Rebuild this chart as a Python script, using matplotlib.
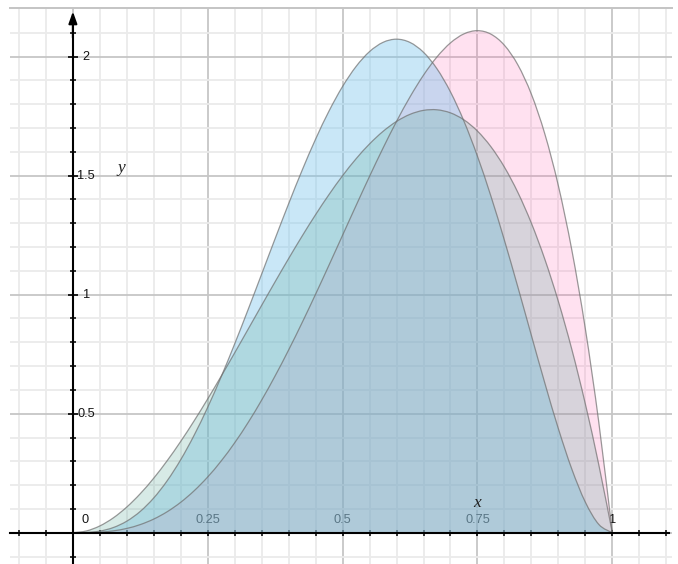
import matplotlib
matplotlib.use("Agg")
import matplotlib.pyplot as plt
from matplotlib.ticker import MultipleLocator, FixedLocator
from matplotlib.path import Path
from matplotlib.patches import PathPatch

# x positions of sampled points
x_vals = [0.0, 0.025, 0.05, 0.075, 0.1, 0.125, 0.15, 0.175, 0.2, 0.225, 0.25,
          0.275, 0.3, 0.325, 0.35, 0.375, 0.4, 0.425, 0.45, 0.475, 0.5,
          0.525, 0.55, 0.575, 0.6, 0.625, 0.65, 0.675, 0.7, 0.725, 0.75,
          0.775, 0.8, 0.825, 0.85, 0.875, 0.9, 0.925, 0.95, 0.975, 1.0]

# pink curve (peak ~2.11 at 0.75)
pink_vals = [0.0, 0.0003, 0.0024, 0.0078, 0.018, 0.0342, 0.0574, 0.0884, 0.128, 0.1766, 0.2344,
             0.3016, 0.378, 0.4634, 0.5574, 0.6592, 0.768, 0.8828, 1.0024, 1.1253, 1.25,
             1.3747, 1.4974, 1.6159, 1.728, 1.8311, 1.9224, 1.9991, 2.058, 2.0959, 2.1094,
             2.0947, 2.048, 1.9653, 1.8424, 1.6748, 1.458, 1.1872, 0.8574, 0.4634, 0.0]

# blue curve (peak ~2.07 at 0.6)
blue_vals = [0.0, 0.0009, 0.0068, 0.0217, 0.0486, 0.0897, 0.1463, 0.2189, 0.3072, 0.4105, 0.5273,
             0.6559, 0.7938, 0.9384, 1.0869, 1.236, 1.3824, 1.5228, 1.6539, 1.7724, 1.875,
             1.9589, 2.0215, 2.0603, 2.0736, 2.0599, 2.0185, 1.9491, 1.8522, 1.7291, 1.582,
             1.4139, 1.2288, 1.0318, 0.8291, 0.6281, 0.4374, 0.2671, 0.1286, 0.0348, 0.0]

# grey-green curve (peak ~1.78 at 0.667)
grey_vals = [0.0, 0.0073, 0.0285, 0.0624, 0.108, 0.1641, 0.2295, 0.3032, 0.384, 0.4708, 0.5625,
             0.6579, 0.756, 0.8556, 0.9555, 1.0547, 1.152, 1.2463, 1.3365, 1.4214, 1.5,
             1.5711, 1.6335, 1.6862, 1.728, 1.7578, 1.7745, 1.7769, 1.764, 1.7346, 1.6875,
             1.6217, 1.536, 1.4293, 1.3005, 1.1484, 0.972, 0.7701, 0.5415, 0.2852, 0.0]

x_tick_labels = ["0", "0.25", "0.5", "0.75", "1"]
x_tick_pos = [0.0, 0.25, 0.5, 0.75, 1.0]
y_tick_labels = ["0.5", "1", "1.5", "2"]
y_tick_pos = [0.5, 1.0, 1.5, 2.0]


def smooth_path(xs, ys, closed_to_baseline):
    """Smooth (Catmull-Rom style) cubic Bezier path through the given points."""
    n = len(xs)
    verts = [(xs[0], ys[0])]
    codes = [Path.MOVETO]
    for i in range(n - 1):
        i0 = max(i - 1, 0)
        i3 = min(i + 2, n - 1)
        c1 = (xs[i] + (xs[i + 1] - xs[i0]) / 6.0, ys[i] + (ys[i + 1] - ys[i0]) / 6.0)
        c2 = (xs[i + 1] - (xs[i3] - xs[i]) / 6.0, ys[i + 1] - (ys[i3] - ys[i]) / 6.0)
        verts += [c1, c2, (xs[i + 1], ys[i + 1])]
        codes += [Path.CURVE4] * 3
    if closed_to_baseline:
        verts += [(xs[-1], 0.0), (xs[0], 0.0), (xs[0], ys[0])]
        codes += [Path.LINETO, Path.LINETO, Path.CLOSEPOLY]
    return Path(verts, codes)


fig = plt.figure(figsize=(6.78, 5.64), dpi=100)
ax = fig.add_axes([10 / 678, 0, 662 / 678, 556 / 564])
xmin, xmax = -0.1166, 1.1107
ymin, ymax = -0.1315, 2.2046
ax.set_xlim(xmin, xmax)
ax.set_ylim(ymin, ymax)

ax.xaxis.set_major_locator(MultipleLocator(0.25))
ax.xaxis.set_minor_locator(MultipleLocator(0.05))
ax.yaxis.set_major_locator(MultipleLocator(0.5))
ax.yaxis.set_minor_locator(FixedLocator([i / 10 for i in range(-1, 22)]))
ax.set_axisbelow(True)
ax.grid(which="minor", color="#ebebeb", lw=1.3)
ax.grid(which="major", color="#c6c6c6", lw=1.3)

ax.spines["right"].set_visible(False)
ax.spines["top"].set_color("#c4c4c4")
ax.spines["top"].set_linewidth(1.4)
ax.spines["bottom"].set_position(("data", 0))
ax.spines["left"].set_position(("data", 0))
ax.spines["bottom"].set_linewidth(1.5)
ax.spines["left"].set_linewidth(1.5)
ax.spines["left"].set_bounds(ymin, 2.16)
ax.spines["bottom"].set_bounds(xmin, xmax - 0.006)
ax.tick_params(which="both", direction="inout", length=4, width=1.1, color="k",
               labelbottom=False, labelleft=False)
ax.tick_params(axis="y", which="major", length=7, width=1.2)
ax.tick_params(axis="x", which="major", length=5, width=1.2)

# fills: pink (bottom), blue, grey-green (top)
fills = [
    (pink_vals, (1.0, 105 / 255, 180 / 255), 0.2, 1.0),
    (blue_vals, (120 / 255, 197 / 255, 237 / 255), 0.4, 1.1),
    (grey_vals, (99 / 255, 172 / 255, 158 / 255), 0.25, 1.2),
]
for vals, col, a, z in fills:
    ax.add_patch(PathPatch(smooth_path(x_vals, vals, True), facecolor=col, alpha=a,
                           lw=0, zorder=z))
for vals in (pink_vals, blue_vals, grey_vals):
    ax.add_patch(PathPatch(smooth_path(x_vals, vals, False), facecolor="none",
                           edgecolor="#6e6e6e", alpha=0.7, lw=0.9, zorder=1.5))

# arrow on y axis
ax.annotate("", xy=(0, 2.19), xytext=(0, 2.08),
            arrowprops=dict(arrowstyle="-|>,head_length=0.7,head_width=0.25",
                            color="k", lw=1.5, shrinkA=0, shrinkB=0), zorder=3)

font = dict(family=["Liberation Sans", "DejaVu Sans"], size=9.2, color="#141414")
for lab, p in zip(x_tick_labels, x_tick_pos):
    xp = p if p != 0 else 0.0228
    ax.text(xp, 0.053, lab, ha="center", va="center", zorder=0.8, **font)
for lab, p in zip(y_tick_labels, y_tick_pos):
    ax.text(0.0246, p, lab, ha="center", va="center", zorder=0.8, **font)

ax.text(0.75, 0.125, "x", ha="center", va="center", style="italic",
        family=["Liberation Serif", "DejaVu Serif"], size=12.5, color="#222222")
ax.text(0.0895, 1.532, "y", ha="center", va="center", style="italic",
        family=["Liberation Serif", "DejaVu Serif"], size=12.5, color="#222222")

fig.savefig("out.png", dpi=100)
